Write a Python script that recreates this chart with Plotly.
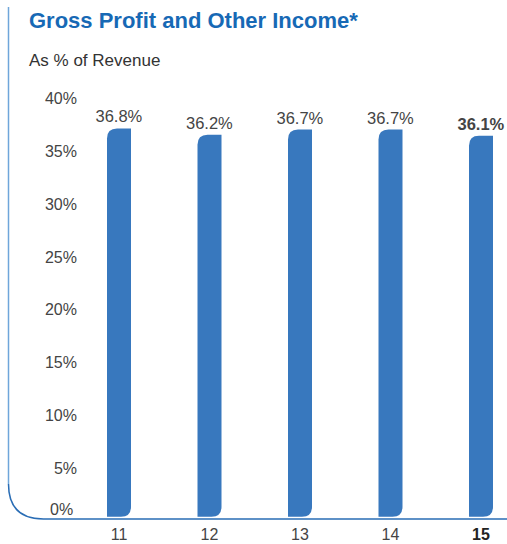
import plotly.graph_objects as go

# ---- data ----
years = ["11", "12", "13", "14", "15"]
values = [36.8, 36.2, 36.7, 36.7, 36.1]
value_labels = ["36.8%", "36.2%", "36.7%", "36.7%", "<b>36.1%</b>"]
tick_vals = [5, 10, 15, 20, 25, 30, 35, 40]
tick_text = ["5%", "10%", "15%", "20%", "25%", "30%", "35%", "40%"]

W, H = 507, 544
BAR_COLOR = "#3878BE"
TEXT = "#444444"
FONT = "Liberation Sans, Arial"

def px(x):
    return x / W

def py(y):
    return 1 - y / H

# geometry (pixels)
first_center = 119
step = 90.5
plot_left = 78
base_px = 519
zero_px = 516.7
ppu = 10.55  # pixels per percent

x_min = (plot_left - first_center) / step
x_max = (W - first_center) / step
y_min = -(base_px - zero_px) / ppu
y_max = zero_px / ppu

bar_w = 24 / step
rx = 10 / step
ry = 10 / ppu

xs = list(range(len(years)))

fig = go.Figure()
fig.add_trace(go.Bar(
    x=xs, y=values, width=bar_w,
    marker=dict(color="rgba(0,0,0,0)", line=dict(width=0)),
    text=value_labels, textposition="outside", constraintext="none",
    textfont=dict(size=16.5, color=TEXT, family=FONT),
    cliponaxis=False, hoverinfo="skip", showlegend=False,
))

shapes = []
for i, v in zip(xs, values):
    x0, x1 = i - bar_w / 2, i + bar_w / 2
    path = (f"M {x0},0 L {x0},{v - ry} Q {x0},{v} {x0 + rx},{v} "
            f"L {x1},{v} L {x1},{ry} Q {x1},0 {x1 - rx},0 Z")
    shapes.append(dict(type="path", xref="x", yref="y", path=path,
                       fillcolor=BAR_COLOR, line=dict(width=0), layer="below"))

# frame: light vertical line at left, darker curve and baseline
shapes.append(dict(type="line", xref="paper", yref="paper",
                   x0=px(8.5), x1=px(8.5), y0=py(7), y1=py(484),
                   line=dict(color="#6FA6DA", width=1.5)))
shapes.append(dict(type="path", xref="paper", yref="paper",
                   path=(f"M {px(8.5)},{py(484)} Q {px(8.5)},{py(519)} {px(43.5)},{py(519)} "
                         f"L {px(507)},{py(519)}"),
                   line=dict(color="#2A6DB5", width=1.5)))

annotations = [
    dict(xref="paper", yref="paper", x=px(27), y=py(21), xanchor="left", yanchor="middle",
         text="<b>Gross Profit and Other Income*</b>", showarrow=False,
         font=dict(size=22, color="#1769B5", family=FONT)),
    dict(xref="paper", yref="paper", x=px(27), y=py(60), xanchor="left", yanchor="middle",
         text="As % of Revenue", showarrow=False,
         font=dict(size=17, color="#333333", family=FONT)),
    dict(xref="paper", yref="y", x=px(75), y=0, yshift=7.7, xanchor="right", yanchor="middle",
         text="0%", showarrow=False,
         font=dict(size=16, color=TEXT, family=FONT)),
]

fig.update_layout(
    width=W, height=H,
    margin=dict(l=0, r=0, t=0, b=0),
    paper_bgcolor="white", plot_bgcolor="white",
    shapes=shapes, annotations=annotations,
    font=dict(family=FONT, color=TEXT, size=16),
    xaxis=dict(domain=[px(plot_left), 1], range=[x_min, x_max],
               tickvals=xs,
               ticktext=years[:-1] + ["<b><span style='color:#222'>" + years[-1] + "</span></b>"],
               showgrid=False, zeroline=False, showline=False, ticks="",
               ticklabelstandoff=4,
               tickfont=dict(size=16, color=TEXT), fixedrange=True),
    yaxis=dict(domain=[py(base_px), 1], range=[y_min, y_max],
               tickvals=tick_vals, ticktext=tick_text,
               showgrid=False, zeroline=False, showline=False, ticks="",
               ticklabelshift=4,
               tickfont=dict(size=16, color=TEXT), fixedrange=True),
    bargap=0.5,
)

fig.write_html("out.html", config={"displayModeBar": False},
               post_script="document.body.style.margin='0px';document.body.style.overflow='hidden';")
